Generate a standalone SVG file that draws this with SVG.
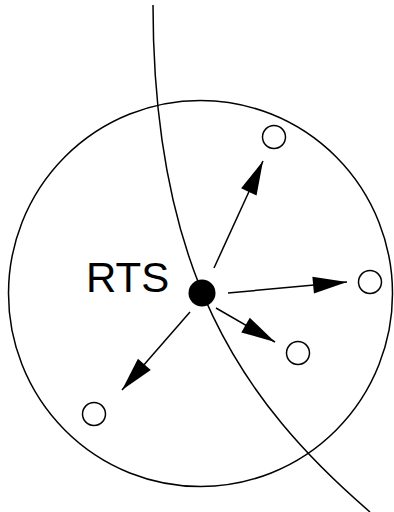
<svg xmlns="http://www.w3.org/2000/svg" width="394" height="512" viewBox="0 0 394 512">
  <defs>
    <style>
      .ln { fill: none; stroke: #000; stroke-width: 1.5; }
      .node { fill: #fff; stroke: #000; stroke-width: 1.5; }
      .arrow { fill: none; stroke: #000; stroke-width: 1.5; marker-end: url(#head); }
      .lbl { font-family: "Liberation Sans", Arial, sans-serif; font-size: 42px; fill: #000; }
    </style>
    <marker id="head" viewBox="-36 -10 38 20" refX="0" refY="0" markerWidth="38" markerHeight="20" markerUnits="userSpaceOnUse" orient="auto">
      <path d="M0,0 L-34,-8.5 L-34,8.5 Z" fill="#000"/>
    </marker>
  </defs>
  <rect width="394" height="512" fill="#fff"/>
  <g id="range">
    <ellipse class="ln" cx="200.5" cy="293.5" rx="192" ry="193"/>
  </g>
  <g id="boundary">
    <path class="ln" d="M153,5 C153,270 240,400 370,512"/>
  </g>
  <g id="connectors">
    <line class="arrow" x1="214" y1="268" x2="263" y2="161"/>
    <line class="arrow" x1="228" y1="293" x2="347" y2="282"/>
    <line class="arrow" x1="216" y1="308" x2="275" y2="342"/>
    <line class="arrow" x1="190" y1="312" x2="122" y2="390"/>
  </g>
  <g id="sender">
    <circle cx="202" cy="293" r="13.5" fill="#000"/>
    <text class="lbl" x="86" y="292">RTS</text>
  </g>
  <g id="n1"><circle class="node" cx="274" cy="137" r="11.5"/></g>
  <g id="n2"><circle class="node" cx="370" cy="282" r="11.5"/></g>
  <g id="n3"><circle class="node" cx="298" cy="353" r="11.5"/></g>
  <g id="n4"><circle class="node" cx="94" cy="414" r="11.5"/></g>
</svg>
